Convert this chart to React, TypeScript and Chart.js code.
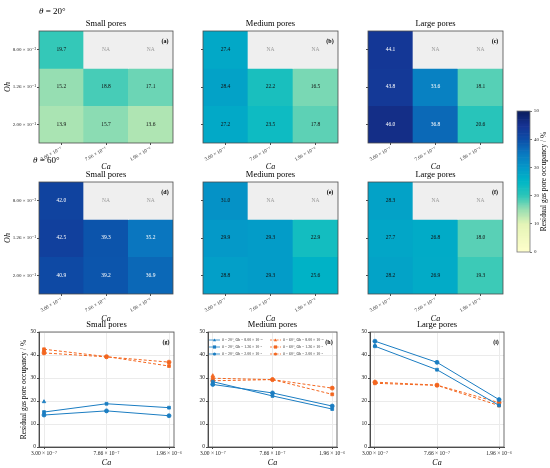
import { useEffect, useRef } from 'react';
import { Chart, registerables } from 'chart.js';

Chart.register(...registerables);

const FONT = "'Liberation Serif', 'DejaVu Serif', 'Times New Roman', serif";

// ---------- data ----------
const CA_LABELS = ['3.00 × 10⁻⁷', '7.66 × 10⁻⁷', '1.96 × 10⁻⁶'];
const OH_LABELS = ['8.00 × 10⁻²', '1.26 × 10⁻¹', '2.00 × 10⁻¹'];
const OCC_TICKS = [0, 10, 20, 30, 40, 50];
const PORE_TITLES = ['Small pores', 'Medium pores', 'Large pores'];
const THETAS = [20, 60];

// rows: Oh = 8.00e-2, 1.26e-1, 2.00e-1 ; columns: Ca
const SMALL_20: (number | null)[][] = [[19.7, null, null], [15.2, 18.8, 17.1], [13.9, 15.7, 13.6]];
const MEDIUM_20: (number | null)[][] = [[27.4, null, null], [28.4, 22.2, 16.5], [27.2, 23.5, 17.8]];
const LARGE_20: (number | null)[][] = [[44.1, null, null], [43.8, 33.6, 18.1], [46.0, 36.8, 20.6]];
const SMALL_60: (number | null)[][] = [[42.0, null, null], [42.5, 39.3, 35.2], [40.9, 39.2, 36.9]];
const MEDIUM_60: (number | null)[][] = [[31.0, null, null], [29.9, 29.3, 22.9], [28.8, 29.3, 25.6]];
const LARGE_60: (number | null)[][] = [[28.3, null, null], [27.7, 26.8, 18.0], [28.2, 26.9, 19.3]];

// ---------- styles ----------
const BLUE = '#1b7dc2';
const ORANGE = '#f3661f';
const NA_COLOR = '#efefef';
const FRAME = '#4d4d4d';
const CMAP_STOPS: [number, string][] = [
  [0, '#ffffcc'], [10, '#e4f4b6'], [15, '#9adfb2'], [20, '#2dc6b8'], [25, '#00b6c6'],
  [30, '#0498c8'], [35, '#0a78c0'], [40, '#0c4ea8'], [45, '#163292'], [50, '#0a1d5c'],
];
const MARKERS = ['triangle', 'rect', 'circle'];

function hexRgb(h: string) {
  const n = parseInt(h.slice(1), 16);
  return [(n >> 16) & 255, (n >> 8) & 255, n & 255];
}
function cmap(v: number) {
  for (let i = 0; i < CMAP_STOPS.length - 1; i++) {
    const [a, ca] = CMAP_STOPS[i];
    const [b, cb] = CMAP_STOPS[i + 1];
    if (v <= b || i === CMAP_STOPS.length - 2) {
      const t = Math.max(0, Math.min(1, (v - a) / (b - a)));
      const A = hexRgb(ca), B = hexRgb(cb);
      const c = A.map((x, k) => Math.round(x + (B[k] - x) * t));
      return `rgb(${c[0]},${c[1]},${c[2]})`;
    }
  }
  return CMAP_STOPS[0][1];
}

type Box = { left: number; top: number; width: number; height: number };
type Rect = { l: number; t: number; r: number; b: number };

const zeroPad = (s: any) => { s.paddingLeft = 0; s.paddingRight = 0; s.paddingTop = 0; s.paddingBottom = 0; };
const fixWidth = (w: number) => (s: any) => { s.width = w; zeroPad(s); };
const fixHeight = (h: number) => (s: any) => { s.height = h; zeroPad(s); };
const font = (size: number, extra: any = {}) => ({ family: FONT, size, lineHeight: 1, ...extra });

function layoutFor(box: Box, plot: Rect) {
  return {
    padding: { left: 0, top: plot.t - box.top, right: box.left + box.width - plot.r, bottom: 0 },
  };
}

function framePlugin(title: string, tag: string) {
  return {
    id: 'frame' + tag,
    afterDraw(chart: any) {
      const { ctx, chartArea: a } = chart;
      ctx.save();
      ctx.strokeStyle = FRAME;
      ctx.lineWidth = 0.8;
      ctx.strokeRect(a.left, a.top, a.right - a.left, a.bottom - a.top);
      ctx.fillStyle = '#000';
      ctx.textAlign = 'center';
      ctx.textBaseline = 'middle';
      ctx.font = `8.5px ${FONT}`;
      ctx.fillText(title, (a.left + a.right) / 2, a.top - 7);
      ctx.font = `bold 6px ${FONT}`;
      ctx.fillText(tag, a.right - 8, a.top + 10);
      ctx.restore();
    },
  };
}

function heatmap(canvas: HTMLCanvasElement, vals: (number | null)[][], title: string, tag: string, box: Box, plot: Rect, showY: boolean) {
  const n = OH_LABELS.length;
  const datasets = vals.map((row, r) => ({
    data: row.map(() => [n - 1 - r, n - r]),
    backgroundColor: row.map((v) => (v == null ? NA_COLOR : cmap(v))),
    borderWidth: 0,
    barPercentage: 1,
    categoryPercentage: 1,
    grouped: false,
  }));
  const cellText = {
    id: 'cells' + tag,
    afterDatasetsDraw(chart: any) {
      const ctx = chart.ctx;
      ctx.save();
      ctx.textAlign = 'center';
      ctx.textBaseline = 'middle';
      ctx.font = `5.5px ${FONT}`;
      chart.data.datasets.forEach((_: any, di: number) => {
        const meta = chart.getDatasetMeta(di);
        meta.data.forEach((el: any, i: number) => {
          const v = vals[di][i];
          const y = (el.y + el.base) / 2;
          if (v == null) {
            ctx.fillStyle = '#9a9a9a';
            ctx.fillText('NA', el.x, y);
          } else {
            ctx.fillStyle = v > 32 ? '#ffffff' : '#111111';
            ctx.fillText(v.toFixed(1), el.x, y);
          }
        });
      });
      ctx.restore();
    },
  };
  return new Chart(canvas, {
    type: 'bar',
    data: { labels: CA_LABELS, datasets: datasets as any },
    options: {
      animation: false,
      responsive: false,
      layout: layoutFor(box, plot),
      plugins: { legend: { display: false }, tooltip: { enabled: false }, title: { display: false } },
      scales: {
        x: {
          type: 'category',
          offset: true,
          grid: { display: true, drawOnChartArea: false, offset: false, tickLength: 2, color: FRAME },
          border: { display: false },
          ticks: { font: font(5), color: '#222', maxRotation: 30, minRotation: 30, padding: 1, autoSkip: false },
          title: { display: true, text: 'Ca', color: '#000', font: font(8, { style: 'italic' }), padding: { top: 0, bottom: 1 } },
          afterFit: fixHeight(box.top + box.height - plot.b),
        },
        y: {
          type: 'linear',
          min: 0,
          max: n,
          afterBuildTicks: (s: any) => { s.ticks = [2.5, 1.5, 0.5].map((value) => ({ value })); },
          ticks: {
            callback: (v: any) => (showY ? OH_LABELS[Math.floor(n - Number(v))] : ''),
            font: font(5), color: '#222', padding: 1, autoSkip: false,
          },
          grid: { display: true, drawOnChartArea: false, tickLength: 2, color: FRAME },
          border: { display: false },
          title: { display: showY, text: 'Oh', color: '#000', font: font(8, { style: 'italic' }), padding: { top: 4, bottom: 0 } },
          afterFit: fixWidth(plot.l - box.left),
        },
      },
    } as any,
    plugins: [cellText, framePlugin(title, tag)],
  });
}

function lineChart(canvas: HTMLCanvasElement, v20: (number | null)[][], v60: (number | null)[][], title: string, tag: string, box: Box, plot: Rect, showYTitle: boolean, showLegend: boolean) {
  const datasets: any[] = [];
  THETAS.forEach((theta, ti) => {
    const vals = ti === 0 ? v20 : v60;
    const color = ti === 0 ? BLUE : ORANGE;
    vals.forEach((row, r) => {
      datasets.push({
        label: `θ = ${theta}°, Oh = ${OH_LABELS[r]}`,
        data: row.map((v, i) => (v == null ? null : { x: i, y: v })).filter((p) => p != null),
        borderColor: color,
        backgroundColor: color,
        borderWidth: 1,
        borderDash: ti === 0 ? [] : [3, 2],
        pointStyle: MARKERS[r],
        pointRadius: 2,
        pointBorderWidth: 0.8,
        tension: 0,
      });
    });
  });
  const legend = {
    id: 'legend' + tag,
    afterDraw(chart: any) {
      if (!showLegend) return;
      const { ctx, chartArea: a } = chart;
      ctx.save();
      ctx.font = `3.9px ${FONT}`;
      ctx.textBaseline = 'middle';
      ctx.textAlign = 'left';
      chart.data.datasets.forEach((ds: any, i: number) => {
        const col = Math.floor(i / 3);
        const row = i % 3;
        const x = a.left + 1 + col * 61;
        const y = a.top + 8 + row * 7;
        ctx.strokeStyle = ds.borderColor;
        ctx.fillStyle = ds.borderColor;
        ctx.lineWidth = 0.8;
        ctx.setLineDash(ds.borderDash.length ? [2, 1.3] : []);
        ctx.beginPath();
        ctx.moveTo(x, y);
        ctx.lineTo(x + 11, y);
        ctx.stroke();
        ctx.setLineDash([]);
        const cx = x + 5.5, rr = 1.6;
        ctx.beginPath();
        if (ds.pointStyle === 'triangle') {
          ctx.moveTo(cx, y - rr); ctx.lineTo(cx + rr, y + rr * 0.8); ctx.lineTo(cx - rr, y + rr * 0.8); ctx.closePath();
        } else if (ds.pointStyle === 'rect') {
          ctx.rect(cx - rr, y - rr, rr * 2, rr * 2);
        } else {
          ctx.arc(cx, y, rr, 0, Math.PI * 2);
        }
        ctx.fill();
        ctx.fillStyle = '#333';
        ctx.fillText(ds.label, x + 13, y);
      });
      ctx.restore();
    },
  };
  return new Chart(canvas, {
    type: 'line',
    data: { datasets },
    options: {
      animation: false,
      responsive: false,
      layout: layoutFor(box, plot),
      plugins: { legend: { display: false }, tooltip: { enabled: false }, title: { display: false } },
      scales: {
        x: {
          type: 'linear',
          min: -0.08,
          max: 2.08,
          afterBuildTicks: (s: any) => { s.ticks = [0, 1, 2].map((value) => ({ value })); },
          ticks: { callback: (v: any) => CA_LABELS[Number(v)], font: font(5.5), color: '#222', maxRotation: 0, autoSkip: false, padding: 2 },
          grid: { color: '#ebebeb', tickColor: FRAME, tickLength: 2 },
          border: { color: FRAME },
          title: { display: true, text: 'Ca', color: '#000', font: font(8, { style: 'italic' }), padding: { top: 0, bottom: 1 } },
          afterFit: fixHeight(box.top + box.height - plot.b),
        },
        y: {
          type: 'linear',
          min: OCC_TICKS[0],
          max: OCC_TICKS[OCC_TICKS.length - 1],
          afterBuildTicks: (s: any) => { s.ticks = OCC_TICKS.map((value) => ({ value })); },
          ticks: { font: font(5.5), color: '#222', padding: 1, autoSkip: false },
          grid: { color: '#ebebeb', tickColor: FRAME, tickLength: 2 },
          border: { color: FRAME },
          title: { display: showYTitle, text: 'Residual gas pore occupancy / %', color: '#000', font: font(7.5), padding: { top: 20, bottom: 0 } },
          afterFit: fixWidth(plot.l - box.left),
        },
      },
    } as any,
    plugins: [framePlugin(title, tag), legend],
  });
}

function colorbar(canvas: HTMLCanvasElement, box: Box, plot: Rect) {
  const step = 0.5;
  const lo = OCC_TICKS[0], hi = OCC_TICKS[OCC_TICKS.length - 1];
  const segs: number[] = [];
  for (let s = lo; s < hi; s += step) segs.push(s);
  const deco = {
    id: 'cbdeco',
    afterDraw(chart: any) {
      const { ctx, chartArea: a } = chart;
      ctx.save();
      ctx.strokeStyle = '#777';
      ctx.lineWidth = 0.8;
      ctx.strokeRect(a.left, a.top, a.right - a.left, a.bottom - a.top);
      ctx.translate(chart.width - 6, (a.top + a.bottom) / 2);
      ctx.rotate(-Math.PI / 2);
      ctx.fillStyle = '#000';
      ctx.font = `7.5px ${FONT}`;
      ctx.textAlign = 'center';
      ctx.textBaseline = 'middle';
      ctx.fillText('Residual gas pore occupancy / %', 0, 0);
      ctx.restore();
    },
  };
  return new Chart(canvas, {
    type: 'bar',
    data: {
      labels: ['cb'],
      datasets: [{
        data: segs.map((s) => ({ x: 'cb', y: [s, s + step] })),
        backgroundColor: segs.map((s) => cmap(s + step / 2)),
        borderWidth: 0,
        barPercentage: 1,
        categoryPercentage: 1,
      }] as any,
    },
    options: {
      animation: false,
      responsive: false,
      layout: { padding: { left: plot.l - box.left, top: plot.t - box.top, right: 0, bottom: box.top + box.height - plot.b } },
      plugins: { legend: { display: false }, tooltip: { enabled: false } },
      scales: {
        x: { display: false, offset: true },
        y: {
          position: 'right',
          min: lo,
          max: hi,
          afterBuildTicks: (s: any) => { s.ticks = OCC_TICKS.map((value) => ({ value })); },
          ticks: { font: font(5), color: '#222', padding: 2 },
          grid: { drawOnChartArea: false, tickLength: 2, color: '#777' },
          border: { display: false },
          afterFit: fixWidth(box.left + box.width - plot.r),
        },
      },
    } as any,
    plugins: [deco],
  });
}

function Canvas({ box, make }: { box: Box; make: (c: HTMLCanvasElement) => Chart }) {
  const ref = useRef<HTMLCanvasElement>(null);
  useEffect(() => {
    const chart = make(ref.current!);
    return () => chart.destroy();
  }, []);
  return (
    <canvas
      ref={ref}
      width={box.width}
      height={box.height}
      style={{ position: 'absolute', left: box.left, top: box.top, width: box.width, height: box.height }}
    />
  );
}

const COLS = [
  { left: 0, width: 185, l: 39, r: 173 },
  { left: 185, width: 165, l: 203, r: 338 },
  { left: 350, width: 160, l: 368, r: 503 },
];
const LINE_COLS = [
  { left: 0, width: 185, l: 39, r: 174 },
  { left: 185, width: 175, l: 208, r: 337 },
  { left: 350, width: 200, l: 370, r: 504 },
];
const ROW1 = { top: 0, height: 172, t: 31, b: 143 };
const ROW2 = { top: 150, height: 174, t: 182, b: 294 };
const ROW3 = { top: 316, height: 152, t: 332, b: 447 };

export default function App() {
  const top20 = [SMALL_20, MEDIUM_20, LARGE_20];
  const bot60 = [SMALL_60, MEDIUM_60, LARGE_60];
  const tagsTop = ['(a)', '(b)', '(c)'];
  const tagsMid = ['(d)', '(e)', '(f)'];
  const tagsLine = ['(g)', '(h)', '(i)'];
  return (
    <div style={{ position: 'absolute', left: 0, top: 0, width: 550, height: 468, background: '#fff', fontFamily: FONT, overflow: 'hidden' }}>
      {COLS.map((c, i) => {
        const box = { left: c.left, top: ROW1.top, width: c.width, height: ROW1.height };
        const plot = { l: c.l, r: c.r, t: ROW1.t, b: ROW1.b };
        return <Canvas key={'a' + i} box={box} make={(cv) => heatmap(cv, top20[i], PORE_TITLES[i], tagsTop[i], box, plot, i === 0)} />;
      })}
      {COLS.map((c, i) => {
        const box = { left: c.left, top: ROW2.top, width: c.width, height: ROW2.height };
        const plot = { l: c.l, r: c.r, t: ROW2.t, b: ROW2.b };
        return <Canvas key={'d' + i} box={box} make={(cv) => heatmap(cv, bot60[i], PORE_TITLES[i], tagsMid[i], box, plot, i === 0)} />;
      })}
      {LINE_COLS.map((c, i) => {
        const box = { left: c.left, top: ROW3.top, width: c.width, height: ROW3.height };
        const plot = { l: c.l, r: c.r, t: ROW3.t, b: ROW3.b };
        return <Canvas key={'g' + i} box={box} make={(cv) => lineChart(cv, top20[i], bot60[i], PORE_TITLES[i], tagsLine[i], box, plot, i === 0, i === 1)} />;
      })}
      <Canvas
        box={{ left: 505, top: 100, width: 45, height: 162 }}
        make={(cv) => colorbar(cv, { left: 505, top: 100, width: 45, height: 162 }, { l: 517, t: 111, r: 530, b: 252 })}
      />
      <div style={{ position: 'absolute', left: 39, top: 6, fontSize: 9, lineHeight: '10px', whiteSpace: 'nowrap' }}>
        <i>θ</i> = 20°
      </div>
      <div style={{ position: 'absolute', left: 33, top: 155, fontSize: 9, lineHeight: '10px', whiteSpace: 'nowrap' }}>
        <i>θ</i> = 60°
      </div>
    </div>
  );
}
